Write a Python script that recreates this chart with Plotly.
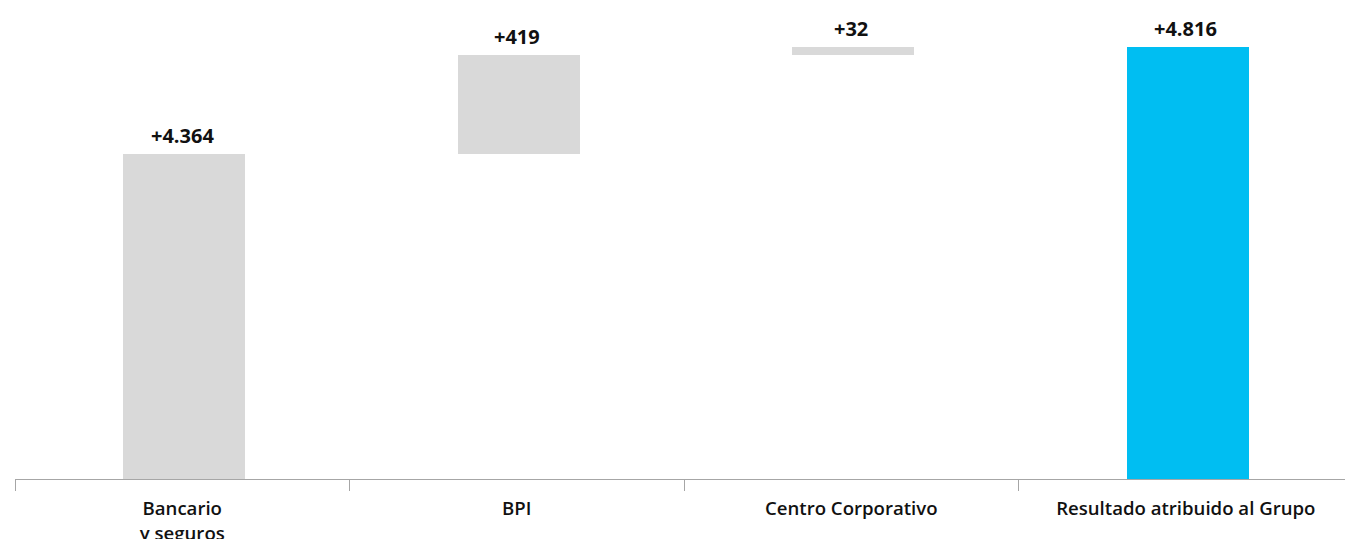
import plotly.graph_objects as go

categories = ["Bancario<br>y seguros", "BPI", "Centro Corporativo", "Resultado atribuido al Grupo"]
values = [4364, 419, 32, 4816]
measures = ["relative", "relative", "relative", "total"]

axis_floor = 2990

def fmt(v):
    return "+" + f"{v:,}".replace(",", ".")

bases, tops = [], []
running = 0
for v, m in zip(values, measures):
    if m == "total":
        bases.append(0)
        tops.append(v)
        running = v
    else:
        bases.append(running)
        running += v
        tops.append(running)

colors = ["#D9D9D9" if m != "total" else "#00BEF2" for m in measures]
heights = [t - b for t, b in zip(tops, bases)]

fig = go.Figure()
fig.add_trace(go.Bar(
    x=categories, y=heights, base=bases,
    marker=dict(color=colors, line=dict(width=0)),
    width=0.365, offset=-0.177, hoverinfo="skip",
))

for c, t, v in zip(categories, tops, values):
    fig.add_annotation(
        x=c, y=t, text="<b>" + fmt(v) + "</b>", showarrow=False,
        yanchor="bottom", yshift=3, xshift=0,
        font=dict(family="Open Sans", size=20, color="#111111"),
    )

fig.update_layout(
    width=1345, height=539,
    margin=dict(l=15, r=0, t=0, b=60),
    plot_bgcolor="white", paper_bgcolor="white",
    showlegend=False,
    bargap=0,
    xaxis=dict(
        type="category", range=[-0.5, 3.476], automargin=False,
        tickson="boundaries", ticks="outside", ticklen=11, tickwidth=1,
        tickcolor="#A6A6A6", showline=True, linecolor="#A6A6A6", linewidth=1,
        showgrid=False, zeroline=False, ticklabelstandoff=13,
        tickfont=dict(family="Open Sans", size=18.6, color="#111111", weight=600),
    ),
    yaxis=dict(
        range=[axis_floor, 5014], visible=False, showgrid=False, zeroline=False,
        automargin=False,
    ),
)

fig.write_html("out.html")
